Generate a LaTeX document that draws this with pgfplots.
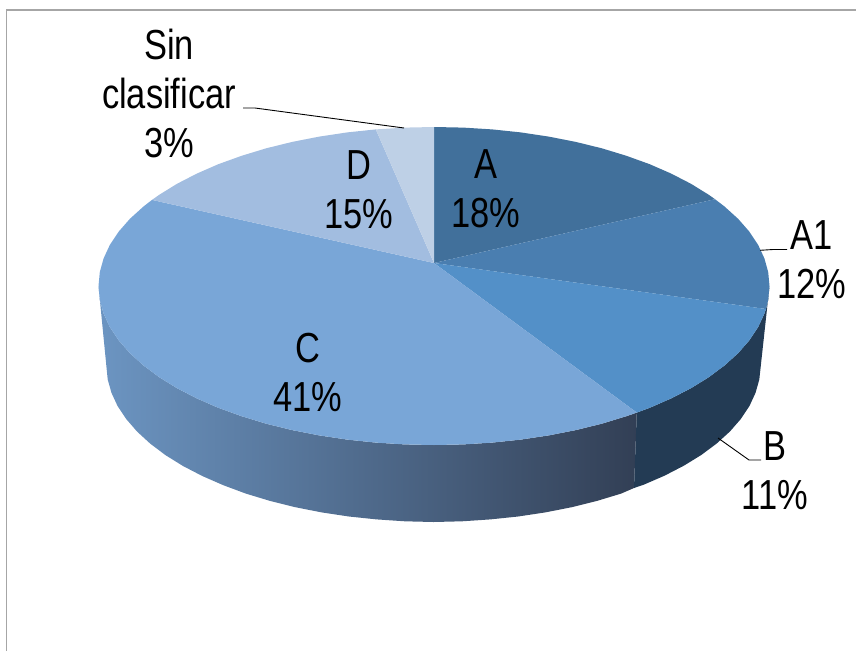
\documentclass[border=0pt]{standalone}
\usepackage{fontspec}
\setmainfont[FakeStretch=0.82]{Liberation Sans}
\usepackage{pgfplots}
\pgfplotsset{compat=1.18}
\definecolor{cA}{HTML}{41709B}
\definecolor{cAone}{HTML}{4A7EB0}
\definecolor{cB}{HTML}{5390C8}
\definecolor{cC}{HTML}{79A6D7}
\definecolor{cD}{HTML}{A2BDE0}
\definecolor{cS}{HTML}{BED0E6}
\definecolor{sB}{HTML}{233B54}
\definecolor{sL}{HTML}{6C95C2}
\definecolor{sM}{HTML}{476180}
\definecolor{sR}{HTML}{323F55}
\tikzset{lab/.style={font=\fontsize{42}{49}\selectfont,align=center,anchor=base,inner sep=0pt,text=black}}
\begin{document}
\begin{tikzpicture}
\useasboundingbox (0,0) rectangle (856pt,651pt);
\begin{axis}[
  at={(0,0)},anchor=south west,
  scale only axis,width=856pt,height=651pt,
  xmin=0,xmax=856,ymin=0,ymax=651,y dir=reverse,
  hide axis,clip=false
]
% frame
\addplot[draw=gray!70,line width=1.2pt,mark=none] coordinates {(6.5,651) (6.5,10) (856,10)};
% side faces
\addplot[draw=none,mark=none,left color=sL,middle color=sM,right color=sR] coordinates {
(98.5,286)(99.8,299.9)(103.6,313.6)(109.9,327.2)(118.7,340.4)(129.9,353.2)(143.5,365.5)(159.2,377.2)(177,388.2)(196.8,398.4)(218.3,407.8)(241.6,416.2)(266.2,423.7)(292.2,430.1)(319.3,435.4)(347.2,439.6)(375.8,442.6)(404.7,444.4)(434,445)(463.3,444.4)(492.2,442.6)(520.8,439.6)(548.7,435.4)(575.8,430.1)(601.8,423.7)(626.4,416.2)(636.8,412.6)
(634,488)(621.1,493.6)(597,500.9)(571.7,507.2)(545.3,512.4)(518.1,516.5)(490.3,519.4)(462,521.3)(433.5,522)(405,521.3)(376.7,519.4)(348.9,516.5)(321.7,512.4)(295.3,507.2)(270,500.9)(245.9,493.6)(223.3,485.2)(202.3,476)(183,466)(165.6,455.2)(150.3,443.7)(137.1,431.6)(126.2,419)(117.6,406.1)(111.5,392.9)(107.7,379.5)};
\addplot[fill=sB,draw=none,mark=none] coordinates {
(769.5,286)(768.2,299.9)(766,309)(764.4,313.6)(758.1,327.2)(749.3,340.4)(738.1,353.2)(724.5,365.5)(708.8,377.2)(691,388.2)(671.2,398.4)(649.7,407.8)(636.8,412.6)
(634,488)(643.7,484.7)(664.7,475.6)(684,465.6)(701.4,454.9)(716.7,443.5)(729.9,431.5)(740.8,419)(749.4,406.1)(755.5,392.9)(759.3,379.5)};
% top wedges
\addplot[fill=cA,draw=none,mark=none] coordinates {
(434,263)(434,127)(463.3,127.6)(492.2,129.4)(520.8,132.4)(548.7,136.6)(575.8,141.9)(601.8,148.3)(626.4,155.8)(649.7,164.2)(671.2,173.6)(691,183.8)(708.8,194.8)(715,199.2)};
\addplot[fill=cAone,draw=none,mark=none] coordinates {
(434,263)(715,199.2)(724.5,206.5)(738.1,218.8)(749.3,231.6)(758.1,244.8)(764.4,258.4)(768.2,272.1)(769.5,286)(768.2,299.9)(766,309)};
\addplot[fill=cB,draw=none,mark=none] coordinates {
(434,263)(766,309)(764.4,313.6)(758.1,327.2)(749.3,340.4)(738.1,353.2)(724.5,365.5)(708.8,377.2)(691,388.2)(671.2,398.4)(649.7,407.8)(636.8,412.6)};
\addplot[fill=cC,draw=none,mark=none] coordinates {
(434,263)(636.8,412.6)(626.4,416.2)(601.8,423.7)(575.8,430.1)(548.7,435.4)(520.8,439.6)(492.2,442.6)(463.3,444.4)(434,445)(404.7,444.4)(375.8,442.6)(347.2,439.6)(319.3,435.4)(292.2,430.1)(266.2,423.7)(241.6,416.2)(218.3,407.8)(196.8,398.4)(177,388.2)(159.2,377.2)(143.5,365.5)(129.9,353.2)(118.7,340.4)(109.9,327.2)(103.6,313.6)(99.8,299.9)(98.5,286)(99.8,272.1)(103.6,258.4)(109.9,244.8)(118.7,231.6)(129.9,218.8)(143.5,206.5)(152,199.9)};
\addplot[fill=cD,draw=none,mark=none] coordinates {
(434,263)(152,199.9)(159.2,194.8)(177,183.8)(196.8,173.6)(218.3,164.2)(241.6,155.8)(266.2,148.3)(292.2,141.9)(319.3,136.6)(347.2,132.4)(375.8,129.4)};
\addplot[fill=cS,draw=none,mark=none] coordinates {
(434,263)(375.8,129.4)(404.7,127.6)(434,127)};
% leader lines
\addplot[black,line width=0.9pt,mark=none] coordinates {(243,108)(255,108)(404,128)};
\addplot[black,line width=0.9pt,mark=none] coordinates {(760,250.3)(773,249.5)(787,249.5)};
\addplot[black,line width=0.9pt,mark=none] coordinates {(718,438)(749,460)(761,460)};
% labels
\node[lab] at (axis cs:169,157) {Sin\\clasificar\\3\%};
\node[lab] at (axis cs:486,227) {A\\18\%};
\node[lab] at (axis cs:812,298) {A1\\12\%};
\node[lab] at (axis cs:775,509) {B\\11\%};
\node[lab] at (axis cs:308,411) {C\\41\%};
\node[lab] at (axis cs:359,228) {D\\15\%};
\end{axis}
\end{tikzpicture}
\end{document}
